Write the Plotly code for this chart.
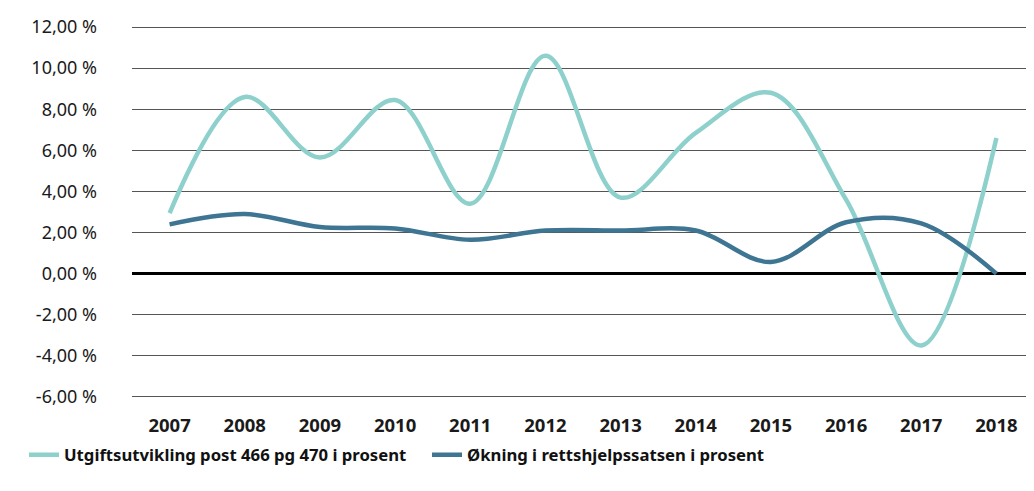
import plotly.graph_objects as go

years = ["2007", "2008", "2009", "2010", "2011", "2012",
         "2013", "2014", "2015", "2016", "2017", "2018"]
utgift = [2.95, 8.6, 5.65, 8.45, 3.4, 10.6, 3.7, 6.85, 8.8, 3.6, -3.5, 6.6]
okning = [2.4, 2.9, 2.27, 2.2, 1.65, 2.1, 2.1, 2.1, 0.57, 2.5, 2.45, 0.0]

tick_vals = [-6, -4, -2, 0, 2, 4, 6, 8, 10, 12]
tick_text = [f"{v:.2f}".replace(".", ",") + " %" for v in tick_vals]

fig = go.Figure()

fig.add_trace(go.Scatter(
    x=years, y=utgift, mode="lines",
    name="Utgiftsutvikling post 466 pg 470 i prosent",
    line=dict(color="#8dd0cc", width=4.5, shape="spline", smoothing=1.0),
))
fig.add_trace(go.Scatter(
    x=years, y=okning, mode="lines",
    name="Økning i rettshjelpssatsen i prosent",
    line=dict(color="#3d7593", width=4.5, shape="spline", smoothing=1.0),
))

# page body has an 8px margin, so the figure sits at (8, 8)
fig.update_layout(
    width=1026, height=483,
    margin=dict(l=124, r=0, t=17, b=92),
    plot_bgcolor="white", paper_bgcolor="white",
    font=dict(family="Noto Sans", size=15, color="#1a1a1a"),
    showlegend=True,
    legend=dict(
        orientation="h", xref="container", yref="container",
        x=0.0156, y=0.0745, xanchor="left", yanchor="middle",
        font=dict(size=16.7, color="#111111", family="Noto Sans", weight="bold"),
        itemwidth=30, traceorder="normal", entrywidth=358,
    ),
)

fig.update_xaxes(
    type="category", range=[-0.5, 11.5], automargin=False,
    showgrid=False, showline=False, zeroline=False,
    ticks="", ticklabelstandoff=13,
    tickfont=dict(size=18.5, color="#1a1a1a", family="Noto Sans", weight="bold"),
)

fig.update_yaxes(
    range=[-6.1, 12.1], tickmode="array", tickvals=tick_vals, ticktext=tick_text,
    automargin=False,
    showgrid=True, gridcolor="#555555", gridwidth=1,
    zeroline=True, zerolinecolor="#000000", zerolinewidth=2.5,
    showline=False, ticks="", ticklabelstandoff=34,
    tickfont=dict(size=18, color="#1a1a1a", family="Noto Sans"),
)

fig.write_html("out.html")
